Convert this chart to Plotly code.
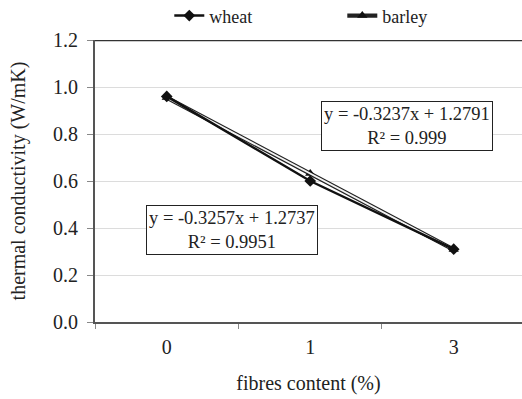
import plotly.graph_objects as go

categories = ["0", "1", "3"]
wheat = [0.96, 0.60, 0.31]
barley = [0.955, 0.632, 0.308]
y_ticks = [0.0, 0.2, 0.4, 0.6, 0.8, 1.0, 1.2]
eq_barley = "y = -0.3237x + 1.2791<br>R² = 0.999"
eq_wheat = "y = -0.3257x + 1.2737<br>R² = 0.9951"

FONT = "Liberation Serif"

fig = go.Figure()
# barley: black outline with white core (double-line look)
fig.add_trace(go.Scatter(
    x=categories, y=barley, mode="lines+markers", name="barley",
    line=dict(color="#222", width=4.2),
    marker=dict(symbol="triangle-up", size=9, color="#111"),
))
fig.add_trace(go.Scatter(
    x=categories, y=barley, mode="lines", showlegend=False, hoverinfo="skip",
    line=dict(color="#f4f4f4", width=1.8),
))
fig.add_trace(go.Scatter(
    x=categories, y=wheat, mode="lines+markers", name="wheat",
    line=dict(color="#111", width=2.4),
    marker=dict(symbol="diamond", size=9, color="#111"),
))

fig.update_layout(
    width=522, height=399,
    margin=dict(l=95, r=0, t=40, b=77, autoexpand=False),
    paper_bgcolor="white", plot_bgcolor="white",
    font=dict(family=FONT, size=19, color="#222"),
    showlegend=True,
    legend=dict(orientation="h", x=0.174, xanchor="left", y=1.02, yanchor="bottom",
                traceorder="reversed", entrywidth=128, entrywidthmode="pixels",
                font=dict(family=FONT, size=18, color="#222"),
                itemwidth=30, bgcolor="rgba(0,0,0,0)"),
    xaxis=dict(
        type="category", categoryorder="array", categoryarray=categories,
        range=[-0.5, 2.476],
        tickson="boundaries", ticks="outside", ticklen=5, tickcolor="#888", tickwidth=1,
        showline=True, linecolor="#555", linewidth=2,
        showgrid=False, zeroline=False, automargin=False,
        title=dict(text="fibres content (%)", standoff=19, font=dict(family=FONT, size=20)),
        tickfont=dict(family=FONT, size=20), ticklabelstandoff=6,
    ),
    yaxis=dict(
        range=[0, 1.2], tickvals=y_ticks, tickformat=".1f",
        ticks="outside", ticklen=6, tickcolor="#888", tickwidth=1,
        showline=True, linecolor="#555", linewidth=2,
        showgrid=True, gridcolor="#dcdcdc", gridwidth=1, zeroline=False, automargin=False,
        title=dict(text="thermal conductivity (W/mK)", standoff=22, font=dict(family=FONT, size=20)),
        tickfont=dict(family=FONT, size=20), ticklabelstandoff=5,
    ),
    shapes=[dict(type="line", xref="paper", yref="y", x0=0, x1=1, y0=1.2, y1=1.2,
                 line=dict(color="#333", width=2.5))],
    annotations=[
        dict(text=eq_barley, xref="x", yref="y", x=1.674, y=0.836, showarrow=False,
             bordercolor="#222", borderwidth=1, borderpad=2, bgcolor="white",
             font=dict(family=FONT, size=18.5, color="#222")),
        dict(text=eq_wheat, xref="x", yref="y", x=0.458, y=0.392, showarrow=False,
             bordercolor="#222", borderwidth=1, borderpad=2, bgcolor="white",
             font=dict(family=FONT, size=18.5, color="#222")),
    ],
)

fig.write_html("out.html", config={"displayModeBar": False},
               post_script="document.body.style.margin='0';document.body.style.overflow='hidden';")
